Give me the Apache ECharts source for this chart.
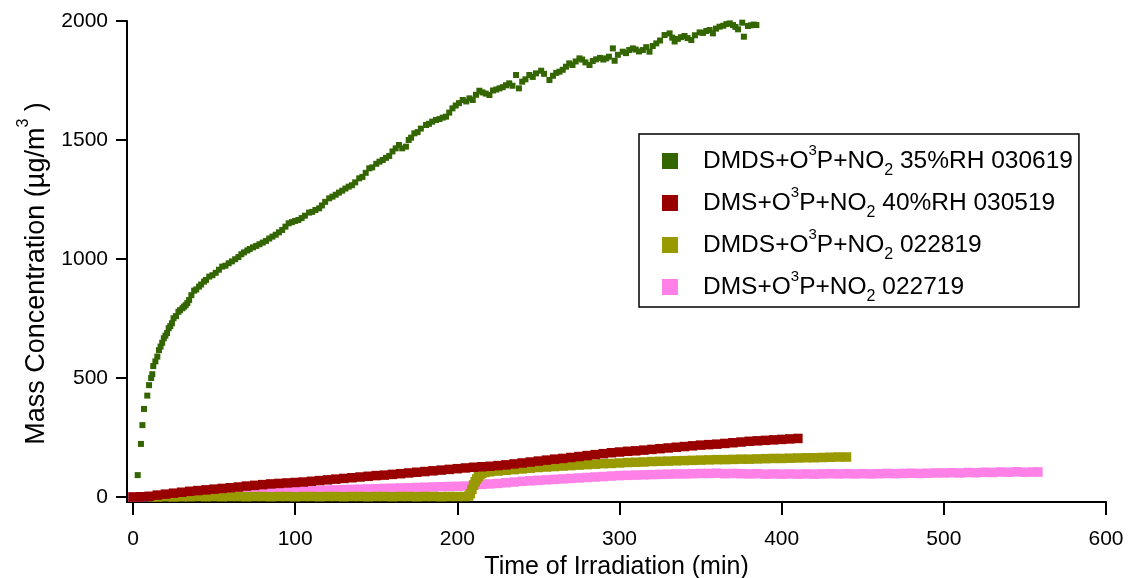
<!DOCTYPE html>
<html><head><meta charset="utf-8">
<script src="https://cdn.jsdelivr.net/npm/echarts@6/dist/echarts.min.js"></script>
<style>html,body{margin:0;padding:0;background:#fff}#c{width:1130px;height:578px}</style>
</head><body><div id="c"></div>
<script>
const xTicks = [0, 100, 200, 300, 400, 500, 600];
const yTicks = [0, 500, 1000, 1500, 2000];
const xTitle = 'Time of Irradiation (min)';

const nameGreen = 'DMDS+O3P+NO2 35%RH 030619';
const nameRed = 'DMS+O3P+NO2 40%RH 030519';
const nameOlive = 'DMDS+O3P+NO2 022819';
const namePink = 'DMS+O3P+NO2 022719';

const greenT = [2.9,4.9,5.8,6.8,8.8,9.9,11.2,11.9,12.5,13.8,15,16,17,18,19,20,21,22,23,24,25,26.5,28,29,30.5,31.5,32.5,33.5,34.6,36,37.7,39,40.7,42,43.8,45,47,49,51,53,55,57,59,61,63,65,66.8,68.5,70.5,72,74,76,78,80,82,84,86,88,90,92,94,96,98,100,102,104,106,108.6,110.5,112.5,114.8,116.5,118.5,121,123,125,127,129,131,133,135,137,139.5,141.5,143.5,145.7,147.5,150,152,154,156,158,160,162,164,166,168.3,170,171.5,173.5,175.5,177.5,180.7,182.5,184.5,186.8,189,191,193,195,197,199,201,203.3,205.5,207.5,209.5,211.5,213.6,215.5,217.5,219.8,222,224,226,228,230,232,234,236.2,238,240,242,244.4,246.5,248.5,251.7,253.5,256.8,259,261,263,265,267,269,271,273,275.3,277,279,281.5,283.5,285.6,288,290,291.8,293.5,295.9,297,299,302,304,306,308.2,310,312,314.4,316.5,318.5,320.5,322.7,325,327.8,330.9,332.5,334,336,338,340.1,342,344.3,346.5,349.4,351.5,353.5,355.6,357.6,359.5,361.7,364,365.9,368,370,371.5,373.1,375.7,376.7,379.2,381,382.8,384.4];
const greenV = [92,223,302,370,426,470,500,516,550,570,590,617,632,648,667,678,689,709,718,730,751,760,778,785,793,800,806,815,828,848,867,872,884,893,905,912,926,932,942,955,968,972,982,990,999,1008,1020,1028,1036,1042,1049,1055,1062,1069,1076,1086,1094,1102,1112,1122,1136,1150,1155,1160,1164,1172,1182,1195,1198,1206,1213,1225,1240,1255,1262,1270,1279,1287,1296,1304,1310,1322,1339,1345,1362,1381,1385,1400,1409,1416,1425,1433,1452,1465,1479,1465,1472,1500,1510,1528,1533,1548,1563,1568,1577,1584,1588,1594,1598,1615,1633,1645,1655,1668,1662,1675,1668,1690,1707,1700,1695,1689,1708,1712,1717,1722,1730,1738,1728,1773,1717,1745,1755,1773,1765,1780,1791,1778,1752,1770,1782,1787,1795,1808,1822,1815,1830,1843,1838,1826,1815,1832,1839,1845,1838,1843,1850,1885,1833,1858,1871,1865,1878,1885,1880,1872,1878,1890,1871,1895,1906,1918,1941,1948,1930,1914,1925,1932,1937,1928,1920,1940,1952,1950,1958,1962,1948,1968,1976,1980,1987,1990,1983,1975,1965,1993,1934,1979,1982,1985,1983];

const redT = [0,5,10,15,20,25,30,35,40,45,50,55,60,65,70,75,80,85,90,95,100,105,110,115,120,125,130,135,140,145,150,155,160,165,170,175,180,185,190,195,200,205,210,215,220,225,230,235,240,245,250,255,260,265,270,275,280,285,290,295,300,305,310,315,320,325,330,335,340,345,350,355,360,365,370,375,380,385,390,395,400,405,410];
const redV = [0,1,3,8,12,16,20,24,27,30,33,36,39,42,46,49,52,55,57,59,61,63,66,69,72,75,78,81,84,87,90,92,95,98,101,104,107,110,113,116,119,122,125,127,129,132,135,139,143,147,151,155,159,162,166,170,174,178,182,186,189,192,194,197,200,203,206,209,212,215,218,220,222,225,228,231,234,236,238,240,242,244,246];

const oliveT = [12,15,20,25,30,35,40,45,50,55,60,65,70,75,80,85,90,95,100,105,110,115,120,125,130,135,140,145,150,155,160,165,170,175,180,185,190,195,200,205,207,208,209,210,211,212,213,214,215,217,220,225,230,235,240,245,250,255,260,265,270,275,280,285,290,295,300,305,310,315,320,325,330,335,340,345,350,355,360,365,370,375,380,385,390,395,400,405,410,415,420,425,430,435,440];
const oliveV = [1,0,1,0,1,1,2,1,2,1,2,2,1,2,2,1,2,2,1,2,2,1,2,2,1,2,2,1,2,2,1,2,2,1,2,2,1,2,2,2,4,14,32,50,64,76,86,94,99,103,106,109,112,115,118,121,124,126,128,130,132,134,136,138,140,141,143,145,146,147,149,150,151,152,153,154,155,156,157,157,158,159,159,160,161,162,162,163,164,165,165,166,167,168,168];

const pinkT = [0,5,10,15,20,25,30,35,40,45,50,55,60,65,70,75,80,85,90,95,100,105,110,115,120,125,130,135,140,145,150,155,160,165,170,175,180,185,190,195,200,205,210,215,220,225,230,235,240,245,250,255,260,265,270,275,280,285,290,295,300,305,310,315,320,325,330,335,340,345,350,355,360,365,370,375,380,385,390,395,400,405,410,415,420,425,430,435,440,445,450,455,460,465,470,475,480,485,490,495,500,505,510,515,520,525,530,535,540,545,550,555,558];
const pinkV = [0,1,2,3,4,5,6,7,8,9,10,11,12,13,15,16,18,19,21,22,24,25,26,27,29,30,31,32,33,34,35,36,37,38,39,40,41,42,43,44,45,46,50,53,55,57,60,63,66,68,70,72,74,76,78,80,82,84,86,88,90,91,92,93,94,95,96,97,97,98,99,99,100,98,99,98,97,98,96,97,96,97,96,97,96,97,98,97,98,97,98,97,98,99,98,99,100,99,100,101,101,102,101,103,102,104,103,105,104,106,104,105,105];

const legendRich = {};
legendRich[nameGreen] = '{a|DMDS+O}{sup|3}{a|P+NO}{sub|2}{a| 35%RH 030619}';
legendRich[nameRed] = '{a|DMS+O}{sup|3}{a|P+NO}{sub|2}{a| 40%RH 030519}';
legendRich[nameOlive] = '{a|DMDS+O}{sup|3}{a|P+NO}{sub|2}{a| 022819}';
legendRich[namePink] = '{a|DMS+O}{sup|3}{a|P+NO}{sub|2}{a| 022719}';

function pairs(t, v) { return t.map((x, i) => [x, v[i]]); }

const FONT = 'Liberation Sans, Arial, Helvetica, sans-serif';
const chart = echarts.init(document.getElementById('c'), null, {renderer: 'canvas'});
chart.setOption({
  animation: false,
  backgroundColor: '#ffffff',
  grid: {left: 127, right: 24, top: 21, bottom: 76, containLabel: false, outerBoundsMode: 'none'},
  xAxis: {
    type: 'value', min: -3.7, max: 600,
    name: xTitle, nameLocation: 'middle', nameGap: 44,
    nameTextStyle: {fontSize: 25, color: '#000', fontFamily: FONT},
    axisLine: {show: true, onZero: false, lineStyle: {color: '#000', width: 2}},
    axisTick: {show: true, inside: false, length: 13, customValues: xTicks, lineStyle: {color: '#000', width: 2}},
    axisLabel: {customValues: xTicks, fontSize: 21, color: '#000', fontFamily: FONT, margin: 27, formatter: v => String(v)},
    splitLine: {show: false}
  },
  yAxis: {
    type: 'value', min: -21, max: 2000,
    name: '{t|Mass Concentration (µg/m}{sup|3}{t| )}', nameLocation: 'middle', nameGap: 61,
    nameTextStyle: {
      color: '#000', fontFamily: FONT, padding: [0, 24, 0, 0],
      rich: {
        t: {fontSize: 27, lineHeight: 42, color: '#000', fontFamily: FONT},
        sup: {fontSize: 16, lineHeight: 16, verticalAlign: 'top', color: '#000', fontFamily: FONT}
      }
    },
    axisLine: {show: true, onZero: false, lineStyle: {color: '#000', width: 2}},
    axisTick: {show: true, inside: false, length: 11, customValues: yTicks, lineStyle: {color: '#000', width: 2}},
    axisLabel: {customValues: yTicks, fontSize: 21, color: '#000', fontFamily: FONT, margin: 19, formatter: v => String(v)},
    splitLine: {show: false}
  },
  legend: {
    orient: 'vertical', left: 639, top: 134,
    data: [nameGreen, nameRed, nameOlive, namePink],
    icon: 'rect', itemWidth: 16, itemHeight: 16, itemGap: 6,
    borderColor: '#000', borderWidth: 1.5, padding: [9, 6, 2, 23],
    formatter: n => legendRich[n],
    textStyle: {
      padding: [0, 0, 0, 20], fontFamily: FONT, color: '#000',
      rich: {
        a: {fontSize: 24.5, lineHeight: 36, color: '#000', fontFamily: FONT},
        sup: {fontSize: 15, lineHeight: 13, verticalAlign: 'top', color: '#000', fontFamily: FONT},
        sub: {fontSize: 16, lineHeight: 20, verticalAlign: 'bottom', color: '#000', fontFamily: FONT}
      }
    }
  },
  series: [
    {name: namePink, type: 'scatter', symbol: 'rect', symbolSize: 9.5, data: pairs(pinkT, pinkV), itemStyle: {color: '#ff80e6', opacity: 1}},
    {name: nameOlive, type: 'scatter', symbol: 'rect', symbolSize: 9.5, data: pairs(oliveT, oliveV), itemStyle: {color: '#999900', opacity: 1}},
    {name: nameRed, type: 'scatter', symbol: 'rect', symbolSize: 9.5, data: pairs(redT, redV), itemStyle: {color: '#990000', opacity: 1}},
    {name: nameGreen, type: 'scatter', symbol: 'rect', symbolSize: 6, data: pairs(greenT, greenV), itemStyle: {color: '#336600', opacity: 1}}
  ]
});
</script></body></html>
